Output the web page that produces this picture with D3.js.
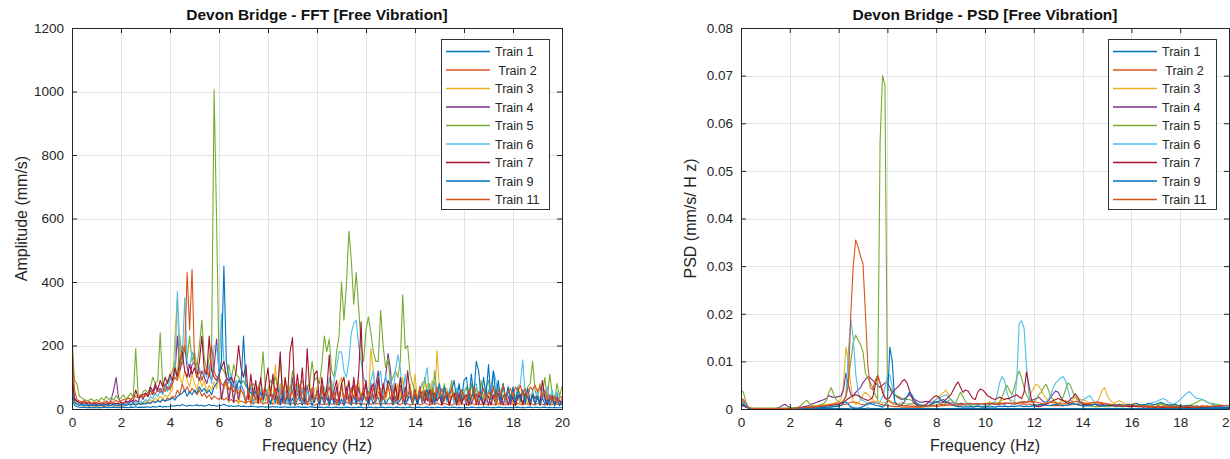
<!DOCTYPE html>
<html>
<head>
<meta charset="utf-8">
<script src="https://cdn.jsdelivr.net/npm/d3@7"></script>
<style>
  html, body { margin: 0; padding: 0; background: #fff; }
  svg { display: block; font-family: "Liberation Sans", Arial, Helvetica, sans-serif; }
  .leg text { white-space: pre; }
</style>
</head>
<body>
<svg id="chart" width="1230" height="459"></svg>
<script>
// frequency grid of both spectra (Hz), one value every 0.1 Hz from 0 to 20
var FREQ_STEP = 0.1;

var trainNames = ["Train 1", " Train 2", "Train 3", "Train 4", "Train 5", "Train 6", "Train 7", "Train 9", "Train 11"];

// FFT amplitude (mm/s)
var fftTrain1 = [
  30,12,8,6,5,6,4,5,4,5, 4,5,4,6,5,4,5,6,5,4, 5,6,5,4,6,5,7,5,6,5, 6,7,5,8,6,7,9,6,8,7,
  8,10,9,12,10,14,11,9,12,10, 11,13,10,12,9,11,14,10,12,9, 10,12,15,11,9,10,8,9,11,8, 9,8,7,9,8,7,6,8,7,6,
  7,6,8,6,7,5,6,7,5,6, 6,5,7,6,5,6,5,7,6,5, 5,6,5,4,6,5,4,5,6,4, 5,4,6,5,4,5,4,6,5,4,
  4,5,6,4,5,4,6,5,4,5, 5,4,5,6,4,5,4,5,6,4, 4,6,5,4,5,6,4,5,4,5, 5,4,6,5,4,5,6,4,5,4,
  4,5,4,6,5,4,5,4,6,5, 5,4,5,4,6,5,4,5,4,5, 4,5,6,4,5,4,5,6,4,5, 5,4,5,6,4,5,4,5,4,4, 4
];
var fftTrain2 = [
  80,25,18,14,12,10,12,9,11,10, 9,12,10,8,11,9,13,10,12,9, 11,14,12,15,13,18,14,16,20,15, 18,22,17,25,20,28,22,30,25,35,
  30,40,35,60,45,80,55,70,50,65, 55,45,60,40,50,35,45,30,40,35, 30,38,28,35,25,30,22,28,20,25, 22,18,25,20,16,22,18,24,15,20,
  18,22,15,20,17,14,21,16,19,13, 17,20,14,18,15,19,13,17,15,12, 16,19,13,17,14,20,15,18,13,16, 19,15,22,17,14,20,16,18,13,17,
  15,19,14,21,16,18,13,17,20,15, 18,14,20,16,13,19,15,17,12,16, 14,18,13,16,20,15,12,17,14,19, 15,13,18,14,16,12,17,15,13,18,
  14,16,12,18,15,13,17,14,19,15, 13,17,15,12,18,14,16,13,17,15, 16,12,18,15,13,17,14,19,15,13, 17,14,16,12,18,15,13,17,14,16, 15
];
var fftTrain3 = [
  40,20,15,12,10,12,9,11,10,9, 12,10,9,13,11,10,14,12,10,13, 12,15,13,18,14,16,20,17,22,18, 25,20,30,24,35,28,40,32,45,38,
  50,60,230,350,100,80,120,90,70,110, 80,60,100,70,90,55,75,60,85,65, 100,30,60,85,20,75,30,65,15,60, 60,15,70,25,65,20,55,18,62,25,
  55,70,20,140,30,80,20,95,25,75, 60,15,80,25,70,20,65,85,15,60, 70,20,85,30,75,15,90,25,50,80, 100,30,60,85,20,75,25,90,30,70,
  80,25,190,120,30,80,20,70,25,65, 60,75,20,80,25,100,30,55,80,20, 110,30,60,85,25,80,30,90,20,185, 60,20,50,65,15,60,20,55,15,60,
  50,15,55,20,50,15,38,48,12,50, 40,15,35,50,12,38,46,15,35,44, 15,45,40,12,48,42,15,44,40,12, 42,15,45,40,12,44,15,42,36,15, 38
];
var fftTrain4 = [
  100,35,25,20,18,15,17,14,16,13, 15,12,14,16,13,15,30,60,100,35, 20,18,22,17,25,20,28,22,45,30, 50,40,60,45,70,55,65,50,80,60,
  70,90,110,230,120,150,200,130,100,140, 150,110,90,120,100,80,110,90,130,220, 120,30,80,95,25,85,20,80,30,75, 60,20,55,65,15,60,20,58,25,62,
  50,15,45,55,70,20,65,18,58,20, 100,20,70,25,65,15,75,25,62,20, 60,15,70,25,65,18,60,20,70,25, 80,20,70,30,65,75,20,68,25,62,
  70,20,80,30,75,120,30,70,100,175, 120,30,70,25,75,20,70,25,65,20, 50,15,45,55,20,58,15,52,20,55, 45,12,40,50,15,38,48,12,52,15,
  45,12,50,15,35,48,12,45,15,44, 12,46,36,15,38,42,12,45,40,15, 42,12,45,38,15,35,42,12,46,15, 36,12,38,42,15,40,45,12,42,15, 30
];
var fftTrain5 = [
  230,90,80,40,35,30,25,28,32,24, 30,26,35,28,40,30,36,28,42,32, 35,45,30,40,50,38,190,45,35,55, 60,50,70,100,80,90,240,80,60,90,
  100,120,150,90,230,140,200,160,230,150, 180,130,200,280,160,120,160,200,1005,600, 150,130,120,100,140,90,140,110,100,80, 90,70,60,75,80,60,70,90,180,60,
  60,90,80,100,70,160,60,80,70,55, 120,80,60,75,90,60,70,80,150,90, 100,80,140,230,180,220,120,100,180,230, 400,280,390,560,470,330,430,320,200,150,
  250,290,240,180,150,150,310,200,130,160, 80,100,120,100,150,360,190,200,110,80, 60,20,70,30,100,40,80,20,120,40, 60,25,80,30,50,90,20,60,75,25,
  50,70,20,80,35,70,25,90,30,70, 90,30,75,20,70,40,80,25,70,40, 60,20,70,40,60,25,70,80,150,60, 30,80,40,100,30,110,50,30,80,40, 70
];
var fftTrain6 = [
  60,30,20,15,12,15,13,11,14,12, 13,11,15,12,14,10,13,16,12,14, 15,13,18,14,20,16,22,18,25,20, 30,25,40,32,50,38,60,45,70,55,
  100,80,120,370,200,150,350,150,130,180, 150,110,130,90,120,100,140,80,200,200, 120,300,150,100,80,110,70,90,60,80, 60,20,55,70,15,65,30,62,20,58,
  50,15,45,60,20,70,25,58,15,55, 60,20,70,30,65,15,60,25,68,30, 50,20,55,70,30,100,40,90,130,180, 180,120,100,150,240,270,280,200,150,100,
  80,30,90,120,40,95,120,35,110,60, 100,40,120,170,130,40,110,30,70,25, 60,20,55,80,90,130,30,60,85,25, 70,25,65,20,60,70,15,65,30,60,
  60,20,65,25,70,80,30,50,65,20, 60,70,120,90,30,60,75,20,65,30, 60,25,70,80,155,40,65,20,60,25, 60,20,65,25,70,20,60,15,55,20, 30
];
var fftTrain7 = [
  130,30,25,20,18,22,17,20,16,19, 15,18,14,17,20,16,19,15,18,17, 20,18,25,22,30,25,60,35,40,45, 50,40,70,55,80,60,90,70,100,80,
  110,90,130,100,150,180,120,100,140,110, 130,100,150,230,120,110,230,120,100,90, 110,130,150,100,90,100,80,120,200,130, 100,140,30,110,40,90,20,100,30,80,
  130,40,110,30,70,180,20,100,40,180, 225,30,110,40,130,20,190,60,30,110, 120,20,100,40,60,170,30,60,90,20, 80,100,30,90,20,100,40,110,275,30,
  90,20,60,80,30,100,25,80,40,90, 70,20,80,30,100,40,20,120,50,20, 60,15,70,20,55,25,60,15,50,25, 40,15,35,45,10,40,50,15,45,20,
  35,45,12,40,50,15,45,30,12,35, 40,12,45,35,50,15,40,45,12,40, 30,12,35,45,15,50,35,12,45,35, 40,15,90,35,12,30,40,15,30,25, 20
];
var fftTrain9 = [
  50,20,15,12,14,11,13,10,12,11, 12,10,13,11,14,10,12,15,11,13, 12,14,11,15,13,16,12,17,14,18, 16,20,18,24,20,26,22,30,25,28,
  30,35,28,40,45,50,60,40,55,45, 60,50,70,55,65,50,60,45,70,80, 100,150,450,150,100,80,70,60,90,80, 230,80,60,50,45,55,40,50,35,45,
  40,15,45,20,40,12,45,20,38,12, 35,10,30,38,12,42,15,36,10,32, 35,12,40,15,38,10,42,15,30,12, 32,10,35,30,12,42,15,36,10,40,
  35,12,38,15,32,36,10,40,15,30, 38,12,40,15,30,42,12,32,40,15, 40,15,45,20,50,60,20,55,15,50, 80,25,70,30,50,60,90,25,80,30,
  90,100,30,110,40,150,120,30,100,40, 140,30,120,40,90,25,80,30,70,25, 70,20,65,25,60,15,65,20,45,15, 40,12,35,15,30,12,32,10,25,10, 20
];
var fftTrain11 = [
  200,60,30,25,22,28,20,24,18,22, 20,25,18,22,26,19,24,20,28,22, 25,30,28,35,30,38,40,35,45,38, 40,50,45,55,48,60,52,65,55,70,
  60,80,100,90,130,200,180,430,250,440, 150,100,120,90,110,130,100,200,120,100, 100,80,70,90,60,75,55,65,50,60, 45,20,60,15,50,30,70,25,40,60,
  20,55,30,65,15,45,70,25,50,35, 60,20,45,70,25,55,15,40,65,30, 50,25,65,20,45,70,30,55,15,45, 70,30,50,20,60,35,75,25,45,60,
  25,55,35,70,20,50,65,30,45,75, 30,60,20,50,70,25,55,40,65,20, 55,30,70,25,60,45,20,65,35,70, 40,65,25,55,35,70,30,50,20,60,
  45,25,60,35,70,20,55,40,65,30, 55,35,70,25,60,45,75,30,50,65, 40,70,55,75,45,65,35,70,60,75, 55,70,40,60,30,45,25,40,20,35, 40
];

// PSD (mm/s/Hz), in units of 0.0001
var PSD_UNIT = 1e-4;
var psdTrain1 = [
  15,10,5,2,1,1,1,1,1,1, 1,1,1,1,1,1,1,1,1,1, 1,1,1,1,1,1,1,1,1,1, 1,1,1,1,1,1,1,1,1,1,
  1,1,1,1,1,2,1,1,1,1, 1,1,2,1,1,1,1,1,2,1, 1,1,1,1,1,1,1,1,1,1, 1,1,1,1,1,1,1,1,1,1,
  1,1,1,1,1,1,1,1,1,1, 1,1,1,1,1,1,1,1,1,1, 1,1,1,1,1,1,1,1,1,1, 1,1,1,1,1,1,1,1,1,1,
  1,1,1,1,1,1,1,1,1,1, 1,1,1,1,1,1,1,1,1,1, 1,1,1,1,1,1,1,1,1,1, 1,1,1,1,1,1,1,1,1,1,
  1,1,1,1,1,1,1,1,1,1, 1,1,1,1,1,1,1,1,1,1, 1,1,1,1,1,1,1,1,1,1, 1,1,1,1,1,1,1,1,1,1, 1
];
var psdTrain2 = [
  20,16,8,3,1,1,1,1,1,1, 1,1,1,1,1,1,1,1,1,1, 1,1,1,1,1,1,2,2,2,2, 2,3,3,3,4,4,5,5,6,6,
  7,8,9,10,12,14,15,14,12,10, 9,10,12,14,15,14,12,10,9,8, 7,6,6,5,5,5,4,4,4,4, 4,4,4,4,4,5,5,5,6,6,
  6,6,7,7,7,8,8,8,8,8, 8,9,9,9,10,10,10,10,11,11, 11,12,12,12,12,13,13,12,12,12, 12,12,11,11,11,10,10,10,10,9,
  9,9,8,8,8,8,8,7,7,7, 7,7,7,8,8,9,9,10,10,11, 11,12,12,13,13,13,12,12,11,11, 10,10,9,9,8,8,7,7,7,6,
  6,6,6,5,5,5,5,5,4,4, 4,4,4,4,4,4,4,4,4,4, 4,4,4,4,4,4,4,4,4,4, 4,4,4,4,4,4,4,4,5,5, 5
];
var psdTrain3 = [
  10,8,5,2,1,1,1,1,1,1, 1,1,1,1,1,1,1,1,1,1, 1,1,2,2,3,3,4,4,5,6, 6,7,8,8,9,10,10,11,12,13,
  15,20,50,130,100,50,15,10,12,20, 30,35,30,25,20,15,18,15,12,14, 15,18,14,12,10,12,15,12,10,12, 10,12,10,8,9,8,7,8,10,15,
  20,25,30,35,40,30,20,15,12,10, 12,10,8,9,8,10,9,8,10,12, 10,12,15,12,10,14,12,18,20,22, 20,18,15,12,14,16,15,14,20,35,
  45,52,48,40,30,22,18,15,12,15, 12,10,15,18,15,12,20,25,22,20, 20,18,15,12,10,12,15,25,40,45, 30,20,15,12,15,18,15,12,10,10,
  10,12,10,8,9,10,8,9,8,10, 9,8,10,8,7,8,9,7,8,7, 8,7,6,7,8,6,7,6,5,6, 6,7,5,6,7,5,6,5,6,5, 5
];
var psdTrain4 = [
  12,8,4,2,1,1,1,1,1,1, 1,1,1,1,1,2,4,8,10,6, 3,2,2,2,3,4,5,6,8,10, 12,14,16,18,20,22,28,26,24,25,
  26,28,40,75,50,30,28,35,40,45, 55,62,68,65,60,55,50,45,50,55, 55,45,35,30,25,22,20,22,25,30, 25,20,18,15,14,15,16,15,14,15,
  14,13,12,14,15,14,12,13,12,11, 12,11,10,12,11,10,11,10,9,10, 10,11,12,11,10,9,10,11,10,12, 12,11,10,12,13,14,15,14,16,18,
  20,22,25,20,15,14,18,25,32,38, 35,25,18,14,12,10,12,10,9,8, 8,9,10,8,9,10,9,8,9,8, 8,7,8,9,8,7,8,7,6,7,
  6,7,6,5,6,7,6,5,6,5, 5,6,5,4,5,6,5,4,5,4, 5,4,5,6,5,4,5,4,5,6, 5,4,5,4,5,6,5,4,5,4, 4
];
var psdTrain5 = [
  40,35,15,3,2,2,2,2,2,2, 2,2,2,2,2,2,2,2,2,2, 2,2,3,3,5,10,15,18,12,8, 5,6,8,10,12,18,35,45,30,20,
  15,12,15,30,60,100,140,155,145,135, 120,75,65,55,45,30,20,560,700,680, 40,40,35,30,28,25,22,20,20,20, 18,15,12,10,8,7,6,5,8,12,
  15,14,10,8,12,18,20,15,12,25, 35,25,15,10,8,6,5,5,5,5, 5,6,8,10,12,10,15,25,40,50, 40,30,45,65,80,65,45,30,20,18,
  15,20,30,35,45,52,40,25,20,12, 10,15,25,40,55,50,35,25,18,12, 10,8,7,6,6,5,5,5,6,5, 5,5,6,5,5,6,5,5,6,6,
  6,7,6,5,6,7,6,7,8,9, 10,8,12,10,8,7,8,7,6,7, 6,5,6,7,8,10,12,15,18,20, 18,14,12,12,11,10,9,8,7,6, 5
];
var psdTrain6 = [
  18,14,8,3,1,1,1,1,1,1, 1,1,1,1,1,1,1,1,1,1, 1,1,1,1,1,2,2,2,3,3, 3,4,4,5,5,6,6,7,8,8,
  10,12,15,30,120,188,150,75,35,20, 18,15,12,10,10,12,12,15,25,45, 70,72,45,15,10,8,8,7,8,10, 12,15,12,10,8,8,7,8,12,18,
  20,22,25,28,30,25,20,15,12,10, 10,9,10,8,9,10,9,8,10,9, 8,9,10,12,15,30,55,68,60,35, 20,12,10,60,180,185,170,90,30,8,
  6,5,6,8,10,15,20,30,45,55, 60,65,68,60,40,20,12,10,12,15, 18,22,25,28,20,12,10,8,7,8, 7,6,7,6,7,6,7,8,7,6,
  7,6,7,8,9,10,9,10,12,14, 15,18,20,22,20,15,12,10,12,15, 20,25,30,35,36,30,25,22,22,20, 18,15,12,10,9,8,7,6,6,5, 5
];
var psdTrain7 = [
  8,6,4,2,1,1,1,1,1,1, 1,1,1,1,1,1,1,1,1,1, 1,1,1,2,2,2,3,3,3,4, 4,5,5,6,6,7,8,8,9,10,
  10,12,14,18,22,25,28,30,28,25, 22,20,18,20,25,50,70,55,35,22, 20,25,35,40,45,50,58,62,55,40, 25,12,8,6,6,8,10,15,20,25,
  28,25,18,15,20,25,30,40,50,57, 45,35,40,38,30,22,20,35,42,40, 35,28,25,22,20,22,25,22,20,22, 22,25,28,30,25,22,35,78,50,20,
  10,6,5,6,8,10,12,15,18,20, 22,20,18,15,14,20,25,32,25,15, 12,10,9,8,9,10,9,8,9,8, 8,7,8,7,6,7,6,7,6,5,
  5,6,5,6,5,4,5,4,5,4, 4,5,4,5,4,5,4,3,4,3, 4,3,4,3,4,3,4,3,4,3, 3,4,3,4,3,4,3,4,3,3, 3
];
var psdTrain9 = [
  12,10,5,2,1,1,1,1,1,1, 1,1,1,1,1,1,1,1,1,1, 1,1,1,1,1,1,1,1,2,2, 2,2,2,3,3,3,4,4,5,5,
  6,8,12,15,10,5,3,2,2,3, 5,8,10,12,10,8,7,6,5,8, 15,130,100,15,10,8,10,15,25,35, 30,20,12,8,6,5,6,8,10,12,
  14,16,18,20,15,12,10,8,6,5, 5,4,5,4,5,4,5,6,5,4, 4,5,4,5,4,5,6,5,6,5, 5,6,5,6,7,6,5,6,5,6,
  7,8,9,10,9,8,7,8,9,10, 9,8,7,8,9,10,12,10,9,8, 7,6,7,8,9,10,8,7,6,7, 8,9,10,8,9,10,9,8,9,10,
  8,10,12,10,8,9,10,12,11,9, 10,12,14,12,10,9,8,9,10,8, 7,6,7,8,7,6,5,6,5,4, 4,5,4,3,4,3,4,3,3,2, 2
];
var psdTrain11 = [
  22,20,12,4,2,1,1,1,1,1, 1,1,1,1,1,1,1,1,1,1, 1,1,1,2,2,2,3,3,4,4, 5,5,6,6,7,8,9,10,10,12,
  12,14,18,25,50,200,300,355,340,320, 305,200,90,45,40,60,70,55,40,25, 20,15,12,10,9,8,8,7,7,6, 6,6,5,5,5,6,6,7,7,8,
  8,9,9,10,10,11,10,9,10,11, 10,9,10,11,12,10,11,12,10,11, 12,11,10,12,11,10,12,11,13,12, 12,11,13,12,14,13,12,14,15,16,
  15,14,13,12,11,12,14,15,14,13, 12,11,10,12,13,14,15,16,15,14, 13,12,11,12,13,14,15,14,13,12, 11,10,9,10,9,8,9,8,7,8,
  7,8,7,6,7,6,7,6,5,6, 5,6,5,6,5,6,5,4,5,4, 5,4,5,6,5,4,5,4,5,6, 5,6,5,6,7,6,7,8,7,8, 8
];

var fftSeries = [fftTrain1, fftTrain2, fftTrain3, fftTrain4, fftTrain5, fftTrain6, fftTrain7, fftTrain9, fftTrain11];
var psdSeries = [psdTrain1, psdTrain2, psdTrain3, psdTrain4, psdTrain5, psdTrain6, psdTrain7, psdTrain9, psdTrain11];

var xTicks = [0, 2, 4, 6, 8, 10, 12, 14, 16, 18, 20];
var fftTicks = [0, 200, 400, 600, 800, 1000, 1200];
var psdTicks = [0, 0.01, 0.02, 0.03, 0.04, 0.05, 0.06, 0.07, 0.08];

// matlab default colour order, wraps after 7
var colorOrder = ["#0072BD", "#D95319", "#EDB120", "#7E2F8E", "#77AC30", "#4DBEEE", "#A2142F"];

var svg = d3.select("#chart");
var ink = "#262626";

function drawPanel(opt) {
    var x = d3.scaleLinear().domain([0, 20]).range([opt.left, opt.right]);
    var y = d3.scaleLinear().domain(opt.yDomain).range([opt.bottom, opt.top]);
    var g = svg.append("g");

    // grid
    g.selectAll(".gx").data(xTicks).enter().append("line")
        .attr("x1", function (d) { return Math.round(x(d)) + 0.5; })
        .attr("x2", function (d) { return Math.round(x(d)) + 0.5; })
        .attr("y1", opt.top).attr("y2", opt.bottom)
        .attr("stroke", "#e3e3e3");
    g.selectAll(".gy").data(opt.yTicks).enter().append("line")
        .attr("y1", function (d) { return Math.round(y(d)) + 0.5; })
        .attr("y2", function (d) { return Math.round(y(d)) + 0.5; })
        .attr("x1", opt.left).attr("x2", opt.right)
        .attr("stroke", "#e3e3e3");

    // curves
    var clipId = "clip" + opt.id;
    svg.append("clipPath").attr("id", clipId).append("rect")
        .attr("x", opt.left).attr("y", opt.top)
        .attr("width", opt.right - opt.left).attr("height", opt.bottom - opt.top);

    var line = d3.line()
        .x(function (d, i) { return x(i * FREQ_STEP); })
        .y(function (d) { return y(d * opt.unit); });

    g.append("g").attr("clip-path", "url(#" + clipId + ")")
        .selectAll("path").data(opt.series).enter().append("path")
        .attr("d", line)
        .attr("fill", "none")
        .attr("stroke", function (d, i) { return colorOrder[i % 7]; })
        .attr("stroke-width", 1.1)
        .attr("stroke-linejoin", "round");

    // axes, ticks pointing inward like matlab
    g.append("g").attr("transform", "translate(0," + opt.bottom + ")")
        .call(d3.axisBottom(x).tickValues(xTicks).tickSizeInner(-5).tickSizeOuter(0).tickPadding(8));
    g.append("g").attr("transform", "translate(0," + opt.top + ")")
        .call(d3.axisTop(x).tickValues(xTicks).tickSizeInner(-5).tickSizeOuter(0).tickFormat(""));
    g.append("g").attr("transform", "translate(" + opt.left + ",0)")
        .call(d3.axisLeft(y).tickValues(opt.yTicks).tickSizeInner(-5).tickSizeOuter(0).tickPadding(8).tickFormat(opt.fmt));
    g.append("g").attr("transform", "translate(" + opt.right + ",0)")
        .call(d3.axisRight(y).tickValues(opt.yTicks).tickSizeInner(-5).tickSizeOuter(0).tickFormat(""));

    g.selectAll(".domain").attr("stroke", ink);
    g.selectAll(".tick line").attr("stroke", ink);
    g.selectAll(".tick text").attr("fill", ink).style("font-size", "13.5px")
        .style("font-family", "'Liberation Sans', Arial, sans-serif");

    // title and labels
    var cx = (opt.left + opt.right) / 2;
    g.append("text").attr("x", cx).attr("y", 20).attr("text-anchor", "middle")
        .attr("fill", "#111").style("font-weight", "bold").style("font-size", "15.5px")
        .text(opt.title);
    g.append("text").attr("x", cx).attr("y", 451).attr("text-anchor", "middle")
        .attr("fill", ink).style("font-size", "16px").text("Frequency (Hz)");
    g.append("text")
        .attr("transform", "translate(" + (opt.left - 45) + "," + ((opt.top + opt.bottom) / 2) + ") rotate(-90)")
        .attr("text-anchor", "middle").attr("fill", ink).style("font-size", "16px")
        .text(opt.ylabel);

    // legend
    var lx = opt.right - 121, ly = 39, lw = 108, lh = 170;
    var leg = g.append("g").attr("class", "leg");
    leg.append("rect").attr("x", lx + 0.5).attr("y", ly + 0.5).attr("width", lw).attr("height", lh)
        .attr("fill", "#fff").attr("stroke", "#333");
    var items = leg.selectAll(".it").data(trainNames).enter().append("g")
        .attr("transform", function (d, i) { return "translate(0," + (ly + 12.5 + i * 18.5) + ")"; });
    items.append("line").attr("x1", lx + 5).attr("x2", lx + 49)
        .attr("stroke", function (d, i) { return colorOrder[i % 7]; }).attr("stroke-width", 1.6);
    items.append("text").attr("x", lx + 54).attr("y", 4.5).attr("fill", ink)
        .style("font-size", "12.5px").text(function (d) { return d; });
}

drawPanel({
    id: "fft", left: 72, right: 562, top: 28, bottom: 409,
    yDomain: [0, 1200], yTicks: fftTicks, unit: 1, series: fftSeries,
    fmt: function (d) { return String(d); },
    title: "Devon Bridge - FFT [Free Vibration]",
    ylabel: "Amplitude (mm/s)"
});

drawPanel({
    id: "psd", left: 741, right: 1229, top: 28, bottom: 409,
    yDomain: [0, 0.08], yTicks: psdTicks, unit: PSD_UNIT, series: psdSeries,
    fmt: function (d) { return d === 0 ? "0" : d.toFixed(2); },
    title: "Devon Bridge - PSD [Free Vibration]",
    ylabel: "PSD (mm/s/ H z)"
});
</script>
</body>
</html>
